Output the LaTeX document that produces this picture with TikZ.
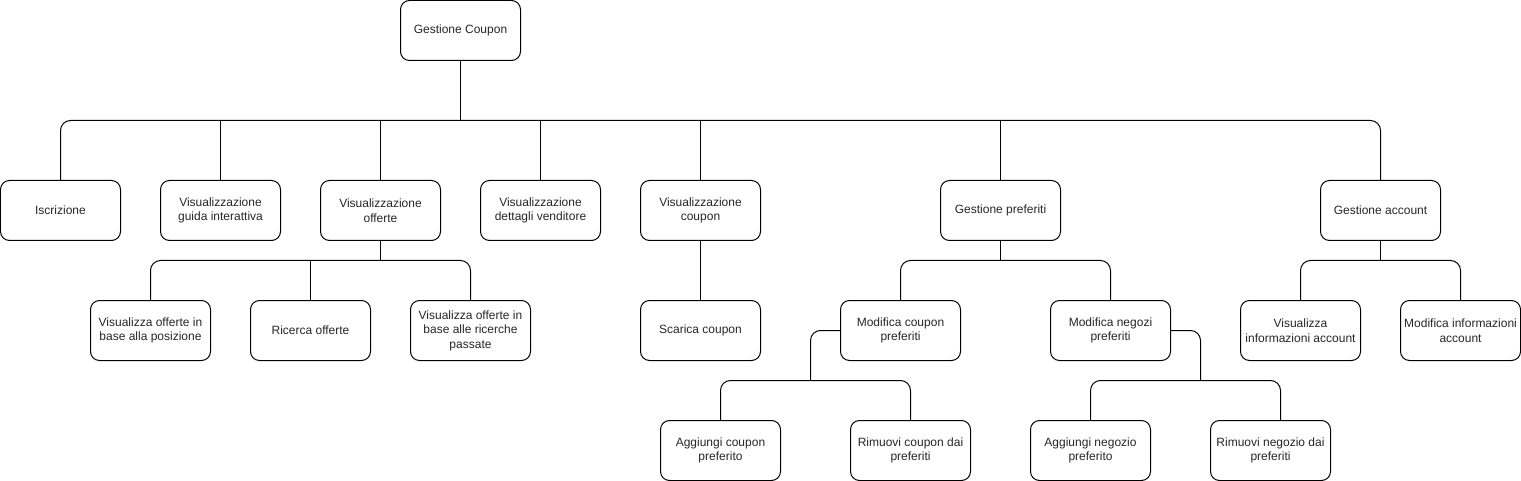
\documentclass[tikz,border=0pt]{standalone}
\usepackage{fontspec}
\setmainfont{Liberation Sans}
\begin{document}
\begin{tikzpicture}[x=1pt,y=-1pt,
  box/.style={draw=black, line width=1pt, rounded corners=9pt, minimum width=120pt, minimum height=60pt, inner sep=0pt, align=center, text=black!85, font=\fontsize{12}{14.5}\selectfont},
  conn/.style={draw=black, line width=1pt, rounded corners=10pt}]
\useasboundingbox (-0.5,-0.5) rectangle (1520.5,480.5);
% level 0
\node[box] (root) at (460,30) {Gestione Coupon};
% level 1
\node[box] (isc) at (60,210) {Iscrizione};
\node[box] (gui) at (220,210) {Visualizzazione\\guida interattiva};
\node[box] (off) at (380,210) {Visualizzazione\\offerte};
\node[box] (ven) at (540,210) {Visualizzazione\\dettagli venditore};
\node[box] (vco) at (700,210) {Visualizzazione\\coupon};
\node[box] (gpr) at (1000,210) {Gestione preferiti};
\node[box] (gac) at (1380,210) {Gestione account};
% level 2
\node[box] (pos) at (150,330) {Visualizza offerte in\\base alla posizione};
\node[box] (ric) at (310,330) {Ricerca offerte};
\node[box] (pas) at (470,330) {Visualizza offerte in\\base alle ricerche\\passate};
\node[box] (sca) at (700,330) {Scarica coupon};
\node[box] (mcp) at (900,330) {Modifica coupon\\preferiti};
\node[box] (mnp) at (1110,330) {Modifica negozi\\preferiti};
\node[box] (via) at (1300,330) {Visualizza\\informazioni account};
\node[box] (mia) at (1460,330) {Modifica informazioni\\account};
% level 3
\node[box] (acp) at (720,450) {Aggiungi coupon\\preferito};
\node[box] (rcp) at (910,450) {Rimuovi coupon dai\\preferiti};
\node[box] (anp) at (1090,450) {Aggiungi negozio\\preferito};
\node[box] (rnp) at (1270,450) {Rimuovi negozio dai\\preferiti};
% bus coordinates
\coordinate (b1) at (460,120);
\coordinate (b2) at (380,260);
\coordinate (b3) at (1000,260);
\coordinate (b4) at (1380,260);
\coordinate (b5) at (810,380);
\coordinate (b6) at (1200,380);
% root connectors
\draw[conn] (root.south) -- (b1);
\draw[conn] (isc.north) |- (b1) -| (gac.north);
\draw[conn] (gui.north) -- (gui.north |- b1);
\draw[conn] (off.north) -- (off.north |- b1);
\draw[conn] (ven.north) -- (ven.north |- b1);
\draw[conn] (vco.north) -- (vco.north |- b1);
\draw[conn] (gpr.north) -- (gpr.north |- b1);
% offerte
\draw[conn] (off.south) -- (b2);
\draw[conn] (pos.north) |- (b2) -| (pas.north);
\draw[conn] (ric.north) -- (ric.north |- b2);
% coupon
\draw[conn] (vco.south) -- (sca.north);
% preferiti
\draw[conn] (gpr.south) -- (b3);
\draw[conn] (mcp.north) |- (b3) -| (mnp.north);
% account
\draw[conn] (gac.south) -- (b4);
\draw[conn] (via.north) |- (b4) -| (mia.north);
% modifica coupon
\draw[conn] (mcp.west) -| (b5);
\draw[conn] (acp.north) |- (b5) -| (rcp.north);
% modifica negozi
\draw[conn] (mnp.east) -| (b6);
\draw[conn] (anp.north) |- (b6) -| ([xshift=10pt]rnp.north);
\end{tikzpicture}
\end{document}
